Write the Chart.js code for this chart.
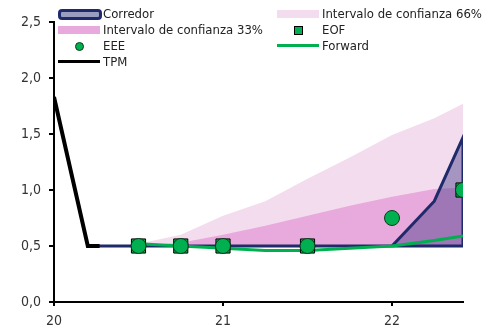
<!DOCTYPE html>
<html>
<head>
<meta charset="utf-8">
<script src="https://cdn.jsdelivr.net/npm/chart.js@4"></script>
<style>
  html, body { margin: 0; padding: 0; background: #fff; }
  #wrap { position: relative; width: 483px; height: 329px; }
  #legend {
    position: absolute; left: 0; top: 0; width: 483px;
    font-family: 'Liberation Sans Narrow', 'DejaVu Sans Condensed', sans-serif;
    font-size: 13px; color: #222;
  }
  .item { position: absolute; height: 16px; line-height: 16px; white-space: nowrap; }
  .item span.sw { position: absolute; top: 0; left: 0; width: 42px; height: 16px; }
  .item span.tx { position: absolute; left: 45px; }
  .box { position: absolute; left: 0; top: 4px; width: 42px; height: 8px; }
  .corr { top: 3px; width: 38px; height: 5px; border: 3px solid #1f2a6b; border-radius: 4px; background: #9a9cc0; }
  .line { position: absolute; left: 0; top: 6px; width: 42px; height: 3px; }
  .sq { position: absolute; left: 17px; top: 4px; width: 7px; height: 7px; background: #00b050; border: 1px solid #000; }
  .dot { position: absolute; left: 17px; top: 4px; width: 7px; height: 7px; border-radius: 50%; background: #00b050; border: 1px solid #0b3b1c; }
</style>
</head>
<body>
<div id="wrap">
  <canvas id="plot" width="483" height="329"></canvas>
  <div id="legend"></div>
</div>
<script>
// eje x en años (20 = 2020)
const xTicks = [20, 21, 22];
const xMax = 22.42;
const yTicks = [0, 0.5, 1, 1.5, 2, 2.5];

// TPM efectiva
const tpmX = [20.0, 20.2, 20.27];
const tpmY = [1.83, 0.5, 0.5];

// Corredor (piso y techo)
const corrX = [20.2, 22.0, 22.25, 22.42];
const corrLow = [0.5, 0.5, 0.5, 0.5];
const corrHigh = [0.5, 0.5, 0.9, 1.47];

// trimestres de la proyección
const qX = [20.5, 20.75, 21.0, 21.25, 21.5, 21.75, 22.0, 22.25, 22.42];
const band66 = [0.52, 0.6, 0.77, 0.9, 1.1, 1.29, 1.49, 1.64, 1.77];
const band33 = [0.5, 0.53, 0.6, 0.68, 0.77, 0.86, 0.94, 1.01, 1.02];
const bandFloor = 0.5;
const forward = [0.52, 0.5, 0.48, 0.46, 0.46, 0.48, 0.5, 0.55, 0.59];

// encuestas
const eeeX = [20.5, 20.75, 21.0, 21.5, 22.0, 22.42];
const eeeY = [0.5, 0.5, 0.5, 0.5, 0.75, 1.0];
const eofX = [20.5, 20.75, 21.0, 21.5, 22.42];
const eofY = [0.5, 0.5, 0.5, 0.5, 1.0];

const pts = (xs, ys) => xs.map((x, i) => ({ x: x, y: ys[i] }));

// contorno cerrado del corredor: piso hacia adelante, techo de vuelta
const corrShape = pts(corrX, corrLow).concat(pts(corrX, corrHigh).reverse());

const navy = '#1f2a6b';
const green = '#00b050';
const font = { family: "'Liberation Sans Narrow', 'DejaVu Sans Condensed', sans-serif", size: 14 };

const datasets = [
  {
    label: 'Intervalo de confianza 66%', data: pts(qX, band66), order: 7,
    borderWidth: 0, pointRadius: 0, backgroundColor: '#f4dcef', fill: { value: bandFloor }
  },
  {
    label: 'Intervalo de confianza 33%', data: pts(qX, band33), order: 6,
    borderWidth: 0, pointRadius: 0, backgroundColor: '#e8aadc', fill: { value: bandFloor }
  },
  {
    label: 'Corredor', data: corrShape, order: 5,
    borderColor: navy, borderWidth: 3, pointRadius: 0,
    backgroundColor: 'rgba(50, 40, 125, 0.4)', fill: 'shape'
  },
  {
    label: 'Forward', data: pts(qX, forward), order: 4,
    borderColor: green, borderWidth: 3, pointRadius: 0, fill: false
  },
  {
    label: 'TPM', data: pts(tpmX, tpmY), order: 3,
    borderColor: '#000', borderWidth: 4, pointRadius: 0, fill: false
  },
  {
    label: 'EOF', data: pts(eofX, eofY), order: 2, showLine: false,
    pointStyle: 'rect', pointRadius: 10, pointBackgroundColor: green,
    pointBorderColor: '#000', pointBorderWidth: 1
  },
  {
    label: 'EEE', data: pts(eeeX, eeeY), order: 1, showLine: false,
    pointStyle: 'circle', pointRadius: 7.5, pointBackgroundColor: green,
    pointBorderColor: '#0b3b1c', pointBorderWidth: 1
  }
];

const chart = new Chart(document.getElementById('plot'), {
  type: 'line',
  data: { datasets: datasets },
  options: {
    responsive: false,
    animation: false,
    layout: { padding: { top: 22, right: 20, left: 0, bottom: 0 } },
    plugins: { legend: { display: false }, tooltip: { enabled: false } },
    elements: { line: { tension: 0 } },
    scales: {
      x: {
        type: 'linear', min: 20, max: xMax,
        afterBuildTicks: (axis) => { axis.ticks = xTicks.map(v => ({ value: v })); },
        afterFit: (axis) => { axis.height = 27; },
        border: { color: '#000', width: 2 },
        grid: { drawOnChartArea: false, drawTicks: true, tickLength: 4, color: '#000', lineWidth: 2 },
        ticks: { color: '#333', font: font, padding: 7, maxRotation: 0, callback: (v) => String(v) }
      },
      y: {
        min: 0, max: 2.5,
        afterBuildTicks: (axis) => { axis.ticks = yTicks.map(v => ({ value: v })); },
        afterFit: (axis) => { axis.width = 54; },
        border: { color: '#000', width: 2 },
        grid: { drawOnChartArea: false, drawTicks: true, tickLength: 5, color: '#000', lineWidth: 2 },
        ticks: { color: '#333', font: font, padding: 8, callback: (v) => v.toFixed(1).replace('.', ',') }
      }
    }
  }
});

// leyenda en dos columnas
const legendItems = [
  { label: 'Corredor', col: 0, row: 0, swatch: '<span class="box corr"></span>' },
  { label: 'Intervalo de confianza 66%', col: 1, row: 0, swatch: '<span class="box" style="background:#f4dcef"></span>' },
  { label: 'Intervalo de confianza 33%', col: 0, row: 1, swatch: '<span class="box" style="background:#e8aadc"></span>' },
  { label: 'EOF', col: 1, row: 1, swatch: '<span class="sq"></span>' },
  { label: 'EEE', col: 0, row: 2, swatch: '<span class="dot"></span>' },
  { label: 'Forward', col: 1, row: 2, swatch: '<span class="line" style="background:' + green + '"></span>' },
  { label: 'TPM', col: 0, row: 3, swatch: '<span class="line" style="background:#000"></span>' }
];
const colLeft = [58, 277];
const rowTop = [6, 22, 38, 54];
document.getElementById('legend').innerHTML = legendItems.map(it =>
  '<div class="item" style="left:' + colLeft[it.col] + 'px;top:' + rowTop[it.row] + 'px">' +
  '<span class="sw">' + it.swatch + '</span><span class="tx">' + it.label + '</span></div>'
).join('');
</script>
</body>
</html>
